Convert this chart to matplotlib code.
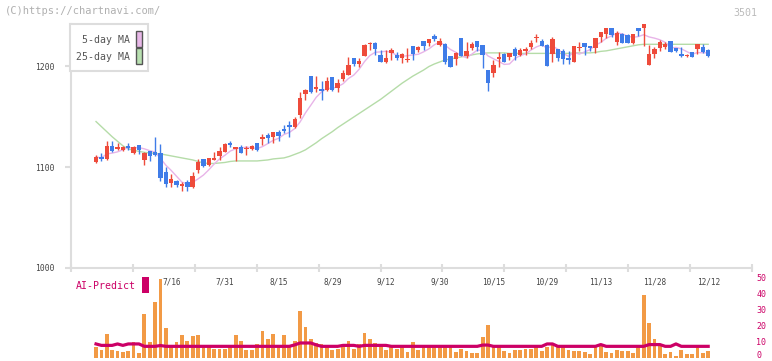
import matplotlib
matplotlib.use('Agg')
import matplotlib.pyplot as plt
from matplotlib.patches import Rectangle
from matplotlib.transforms import ScaledTranslation
import numpy as np
import pandas as pd

# daily candles (oldest first)
opens = [1105, 1110, 1108, 1121, 1118, 1117, 1121, 1114, 1122, 1107,
         1116, 1115, 1114, 1095, 1084, 1086, 1081, 1085, 1080, 1097,
         1108, 1102, 1107, 1111, 1115, 1124, 1118, 1120, 1118, 1118,
         1124, 1128, 1132, 1130, 1135, 1138, 1142, 1140, 1151, 1172,
         1190, 1177, 1177, 1176, 1189, 1178, 1187, 1191, 1208, 1202,
         1210, 1222, 1223, 1211, 1204, 1213, 1211, 1208, 1206, 1220,
         1216, 1225, 1223, 1230, 1221, 1222, 1210, 1207, 1228, 1210,
         1218, 1225, 1221, 1196, 1193, 1207, 1212, 1209, 1217, 1211,
         1215, 1219, 1228, 1225, 1221, 1212, 1217, 1215, 1208, 1204,
         1217.5, 1223, 1220, 1218, 1229, 1232, 1238, 1224, 1232, 1231,
         1223, 1238, 1238, 1201, 1212, 1218, 1219, 1225, 1218, 1212,
         1210, 1214, 1217, 1219, 1216]
highs = [1112, 1114, 1126, 1126, 1124, 1121, 1124, 1121, 1122, 1115,
         1116, 1130, 1123, 1100, 1093, 1087, 1085, 1087, 1095, 1108,
         1108, 1109, 1115, 1120, 1124, 1126, 1120, 1122, 1121, 1122,
         1124, 1133, 1134, 1135, 1137, 1142, 1146, 1150, 1174, 1177,
         1190, 1190, 1185, 1189, 1189, 1187, 1196, 1209, 1208, 1208,
         1222, 1224, 1224, 1216, 1216, 1218, 1214, 1213, 1218, 1220,
         1220, 1225, 1227, 1232, 1228, 1223, 1210, 1214, 1228, 1224,
         1224, 1225, 1221, 1196, 1206, 1214, 1213, 1213, 1219, 1218,
         1219, 1226, 1232, 1227, 1222, 1229, 1217, 1217, 1215, 1220,
         1224, 1223, 1220, 1228, 1234, 1238, 1238, 1235, 1233, 1232,
         1232, 1238, 1242, 1221, 1219, 1226, 1224, 1225, 1218, 1219,
         1212, 1214, 1222, 1222, 1217]
lows = [1104, 1106, 1107, 1115, 1117, 1116, 1117, 1113, 1113, 1102,
        1106, 1111, 1086, 1080, 1080, 1080, 1076, 1076, 1079, 1094,
        1100, 1101, 1107, 1107, 1115, 1120, 1106, 1114, 1112, 1117,
        1116, 1122, 1124, 1124, 1126, 1134, 1130, 1139, 1149, 1166,
        1173, 1174, 1166, 1175, 1175, 1174, 1185, 1191, 1200, 1199,
        1210, 1216, 1211, 1204, 1203, 1206, 1206, 1203, 1204, 1206,
        1214, 1216, 1220, 1225, 1220, 1202, 1199, 1201, 1210, 1208,
        1216, 1215, 1198, 1175, 1189, 1199, 1204, 1206, 1206, 1210,
        1211, 1217, 1224, 1220, 1200, 1204, 1205, 1202, 1202, 1204,
        1215, 1211, 1215, 1213, 1224, 1228, 1229, 1221, 1223, 1223,
        1222, 1230, 1220, 1201, 1208, 1215, 1217, 1214, 1214, 1209,
        1209, 1209, 1212, 1213, 1209]
closes = [1110, 1108, 1121, 1116, 1120, 1120, 1119, 1120, 1117, 1114,
          1111, 1112, 1089, 1083, 1088, 1082, 1083, 1080, 1091, 1105,
          1101, 1109, 1109, 1116, 1123, 1122, 1120, 1114, 1119, 1121,
          1117, 1130, 1129, 1135, 1131, 1136, 1140, 1148, 1168, 1176,
          1174, 1179, 1175, 1185, 1176, 1183, 1193, 1201, 1202, 1205,
          1221, 1223, 1217, 1204, 1208, 1216, 1208, 1212, 1207, 1212,
          1219, 1220, 1227, 1227, 1225, 1204, 1199, 1213, 1210, 1215,
          1222, 1219, 1211, 1183, 1201, 1209, 1204, 1213, 1210, 1216,
          1217, 1223, 1228.5, 1220, 1200, 1227, 1208, 1207, 1206, 1220,
          1218, 1219, 1218, 1228, 1234, 1238, 1231, 1233, 1223, 1223,
          1232, 1235, 1242, 1212, 1217, 1224, 1222, 1214, 1215, 1210,
          1210.5, 1209, 1222, 1214, 1210]
volumes = [6.5, 4.8, 14.8, 4.8, 4.4, 3.6, 4.4, 9.8, 2.9, 27.3,
           9.8, 34.8, 49.2, 18.6, 6.9, 9.8, 14.2, 10.4, 13.6, 14.0,
           6.9, 6.5, 5.4, 5.4, 5.4, 6.5, 14.0, 10.6, 4.8, 4.8,
           8.3, 16.7, 11.7, 14.8, 7.3, 14.2, 6.5, 10.6, 29.2, 19.2,
           11.7, 9.2, 8.3, 6.9, 4.8, 5.4, 7.3, 10.4, 5.2, 8.3,
           15.5, 11.7, 9.2, 7.3, 4.8, 6.5, 5.2, 6.5, 3.3, 9.8,
           4.8, 6.5, 6.5, 6.5, 6.5, 6.5, 6.5, 3.6, 5.4, 4.2,
           2.9, 2.9, 12.9, 20.4, 6.5, 6.5, 4.4, 2.9, 4.8, 4.8,
           5.2, 5.6, 6.5, 4.4, 6.5, 9.2, 6.5, 6.5, 4.8, 4.4,
           4.4, 3.6, 2.5, 6.5, 7.3, 3.6, 2.9, 4.8, 4.4, 4.0,
           2.9, 6.5, 39.4, 21.9, 11.7, 7.7, 2.3, 3.6, 1.1, 4.8,
           2.3, 2.3, 6.5, 2.9, 4.4]
ma25 = [1145, 1140, 1135, 1130, 1125.5, 1121, 1118, 1116.5, 1115.5, 1114.5,
        1114, 1113.5, 1113, 1112, 1111, 1110, 1109, 1108, 1107, 1105.5,
        1104, 1103.5, 1103.5, 1104, 1104.5, 1105.5, 1106, 1106, 1106, 1106,
        1106, 1106.5, 1107, 1108, 1108.5, 1109, 1110.5, 1112.5, 1114.5, 1117,
        1120.5, 1124, 1128, 1131.5, 1135, 1139, 1142.5, 1146, 1149.5, 1153,
        1156.5, 1160, 1163.5, 1167, 1171, 1175, 1179, 1183, 1186.5, 1190,
        1193, 1196, 1199.5, 1202, 1204, 1206, 1207, 1208, 1209, 1210,
        1211, 1212, 1212.5, 1213, 1213, 1213, 1213, 1212.5, 1212.5, 1212.5,
        1212.5, 1212.5, 1212.5, 1212.5, 1212.5, 1212.5, 1212.5, 1212.5, 1212.5, 1213,
        1213, 1213, 1213, 1213.5, 1214.5, 1215, 1216, 1217, 1218, 1219,
        1220, 1221, 1221.5, 1221.5, 1221.5, 1221.5, 1221.5, 1221.5, 1221.5, 1221.5,
        1221.5, 1221.5, 1221.5, 1221.5, 1221.5]
ai_predict = [8.6, 7.7, 7.7, 7.7, 8.6, 7.7, 8.6, 8.6, 8.6, 7.1,
              7.1, 7.1, 7.6, 7.1, 7.1, 7.1, 7.1, 7.1, 7.1, 7.1,
              7.1, 7.1, 7.1, 7.1, 7.1, 7.1, 7.1, 7.1, 7.1, 7.1,
              7.1, 7.1, 7.1, 7.1, 7.1, 7.1, 7.1, 8.0, 9.2, 9.2,
              9.2, 8.0, 7.1, 7.1, 7.1, 7.1, 7.7, 7.7, 7.7, 7.1,
              7.7, 7.7, 7.7, 7.7, 7.7, 7.1, 7.1, 7.1, 7.1, 7.1,
              7.1, 7.1, 7.1, 7.1, 7.1, 7.1, 7.1, 7.1, 7.1, 7.1,
              7.1, 7.1, 7.9, 7.9, 7.1, 7.1, 7.1, 7.1, 7.1, 7.1,
              7.1, 7.1, 7.1, 7.1, 8.6, 8.6, 7.1, 7.1, 7.1, 7.1,
              7.1, 7.1, 7.1, 7.1, 8.2, 7.1, 7.1, 7.1, 7.1, 7.1,
              7.1, 7.1, 7.1, 8.2, 8.2, 8.2, 7.1, 7.1, 8.6, 7.1,
              7.1, 7.1, 7.1, 7.1, 7.1]
date_idx = [14, 24, 34, 44, 54, 64, 74, 84, 94, 104, 114]
date_labels = ['7/16', '7/31', '8/15', '8/29', '9/12', '9/30',
               '10/15', '10/29', '11/13', '11/28', '12/12']

MONO = 'DejaVu Sans Mono'
UP = '#ee4b3b'
DOWN = '#3f7ce8'
GRID = '#dddddd'

x = np.arange(len(closes))
o = np.array(opens)
c = np.array(closes)
ma5 = pd.Series(closes).rolling(5, min_periods=1).mean()
xmin, xmax = -4.66, 122.16

fig = plt.figure(figsize=(7.72, 3.61), dpi=100)

# price panel
ax = fig.add_axes([71/772, 93/361, 681/772, 244/361])
ax.plot(x, ma25, color='#b5dca8', lw=1, zorder=1)
ax.plot(x, ma5, color='#e8b4e8', lw=1, zorder=1)
cols = [UP if cc >= oo else DOWN for oo, cc in zip(o, c)]
ax.vlines(x, lows, highs, colors=cols, lw=1, zorder=2, clip_on=False)
body = np.maximum(np.abs(c - o), 1.0)
ax.bar(x, body, bottom=np.minimum(o, c), width=0.82, color=cols, zorder=3, clip_on=False)

ax.set_xlim(xmin, xmax)
ax.set_ylim(1000, 1241.6)
for s in ['top', 'right']:
    ax.spines[s].set_visible(False)
for s in ['left', 'bottom']:
    ax.spines[s].set_color(GRID)
    ax.spines[s].set_linewidth(1.5)
ax.set_yticks([1000, 1100, 1200])
ax.set_yticklabels(['1000', '1100', '1200'], family=MONO, fontsize=5.8, color='#444444')
ax.tick_params(axis='y', length=4.5, width=1.5, color=GRID, pad=7)
ax.set_xticks(np.linspace(xmin, xmax, 12))
ax.set_xticklabels([])
ax.tick_params(axis='x', which='major', direction='inout', length=6, width=1.5, color=GRID)
ax.set_xticks(date_idx, minor=True)
ax.set_xticklabels(date_labels, minor=True, family=MONO, fontsize=5.6, color='#444444')
ax.tick_params(axis='x', which='minor', length=0, pad=7)

# volume panel
ax2 = fig.add_axes([71/772, 3.3/361, 681/772, 80/361])
ax2.set_facecolor('none')
ax2.bar(x, volumes, width=0.7, color='#f29a45', zorder=1)
ax2.plot(x, ai_predict, color='#cc0066', lw=2.3, zorder=2)
ax2.set_xlim(xmin, xmax)
ax2.set_ylim(0, 50)
for s in ax2.spines.values():
    s.set_visible(False)
ax2.set_xticks([])
ax2.yaxis.tick_right()
ax2.set_yticks([0, 10, 20, 30, 40, 50])
ax2.set_yticklabels(['0', '10', '20', '30', '40', '50'], family=MONO, fontsize=6.0, color='#cc0066')
ax2.tick_params(axis='y', length=0, pad=3)
# keep the "0" label inside the picture
lab0 = ax2.get_yticklabels()[0]
lab0.set_transform(lab0.get_transform() + ScaledTranslation(0, 2.5/72, fig.dpi_scale_trans))

# header texts
fig.text(5/772, 1 - 11/361, '(C)https://chartnavi.com/', family=MONO, fontsize=7.5,
         color='#b0b0b0', va='center')
fig.text(757/772, 1 - 12.5/361, '3501', family=MONO, fontsize=7.2, color='#bbbbbb',
         va='center', ha='right')

# legend box
def fig_rect(x0, y0, x1, y1, **kw):
    fig.patches.append(Rectangle((x0/772, 1 - y1/361), (x1 - x0)/772, (y1 - y0)/361,
                                 transform=fig.transFigure, **kw))

fig_rect(70, 24, 148, 71, facecolor='white', edgecolor=GRID, lw=1.5)
fig.text(129.5/772, 1 - 40/361, '5-day MA', family=MONO, fontsize=7.1, color='#555555',
         ha='right', va='center')
fig.text(129.5/772, 1 - 56.7/361, '25-day MA', family=MONO, fontsize=7.1, color='#555555',
         ha='right', va='center')
fig_rect(136, 31.5, 142.3, 46.5, facecolor='#e8b8e8', edgecolor='#555555', lw=1)
fig_rect(136, 48.5, 142.3, 63.5, facecolor='#b8e0b0', edgecolor='#555555', lw=1)

# AI-Predict tag
fig.text(76/772, 1 - 286/361, 'AI-Predict', family=MONO, fontsize=7.1, color='#cc0066',
         va='center')
fig_rect(142.3, 277, 149, 293, facecolor='#cc0066', edgecolor='none')

fig.savefig('out.png', dpi=100)
